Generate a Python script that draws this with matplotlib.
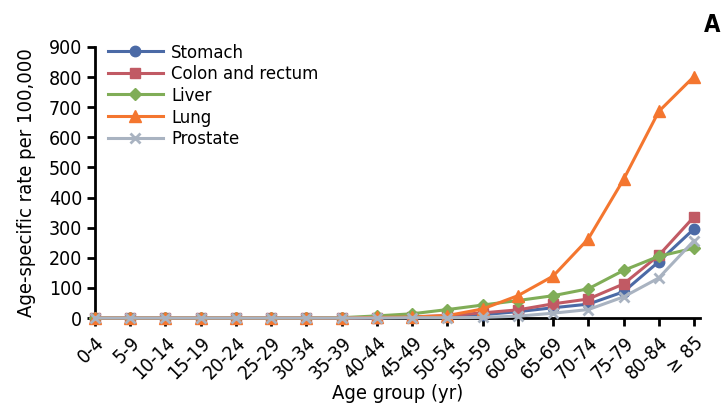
import numpy as np
import matplotlib
matplotlib.use("Agg")
import matplotlib.pyplot as plt

plt.rcParams['font.family'] = ['DejaVu Sans']
plt.rcParams['font.stretch'] = 'condensed'

ages = ["0-4", "5-9", "10-14", "15-19", "20-24", "25-29", "30-34", "35-39",
        "40-44", "45-49", "50-54", "55-59", "60-64", "65-69", "70-74",
        "75-79", "80-84", "\u2265 85"]

stomach = [0, 0, 0, 0, 0, 0, 0, 0, 1, 3, 6, 11, 21, 34, 46, 87, 187, 296]
colon = [0, 0, 0, 0, 0, 0, 0, 0, 1, 4, 8, 17, 27, 47, 63, 113, 208, 336]
liver = [0, 0, 0, 0, 0, 0, 0, 1, 7, 14, 28, 43, 58, 74, 97, 158, 205, 232]
lung = [0, 0, 0, 0, 0, 0, 0, 0, 2, 3, 8, 30, 74, 139, 263, 460, 686, 802]
prostate = [0, 0, 0, 0, 0, 0, 0, 0, 0, 1, 1, 2, 6, 16, 28, 70, 133, 257]

series = [("Stomach", stomach, "#4b6aa6", "o", 7.5),
          ("Colon and rectum", colon, "#c15a64", "s", 7),
          ("Liver", liver, "#80ad57", "D", 6.5),
          ("Lung", lung, "#f4762f", "^", 8.5),
          ("Prostate", prostate, "#a9b3c1", "x", 7)]

fig = plt.figure(figsize=(7.21, 4.05), dpi=100)
ax = fig.add_axes([95/721, 1-318/405, 605/721, 271/405])

x = np.arange(len(ages))
for name, vals, col, mk, ms in series:
    ax.plot(x, vals, color=col, marker=mk, markersize=ms, lw=2.2,
            mew=2 if mk == "x" else 1, label=name, clip_on=False, zorder=3)

ax.set_xlim(0, 17.17)
ax.set_ylim(0, 900)
ax.set_yticks(np.arange(0, 901, 100))
ax.set_xticks(x)
ax.set_xticklabels(ages, rotation=45, ha="right", va="top", rotation_mode="anchor")
ax.tick_params(axis="both", labelsize=14, width=2, length=6, direction="out", pad=3)
ax.tick_params(axis="x", pad=5)
for s in ["top", "right"]:
    ax.spines[s].set_visible(False)
for s in ["left", "bottom"]:
    ax.spines[s].set_linewidth(2)

ax.set_xlabel("Age group (yr)", fontsize=14.5, labelpad=1)
ax.set_ylabel("Age-specific rate per 100,000", fontsize=14.5, labelpad=9)

ax.legend(loc="upper left", bbox_to_anchor=(0.0, 1.06), frameon=False,
          fontsize=13.2, handlelength=3.0, labelspacing=0.2, borderaxespad=0.3,
          handletextpad=0.45)

fig.text(720/721, 1-25/405, "A", fontsize=17, fontweight="bold",
         ha="right", va="center")

fig.savefig("out.png", dpi=100)
